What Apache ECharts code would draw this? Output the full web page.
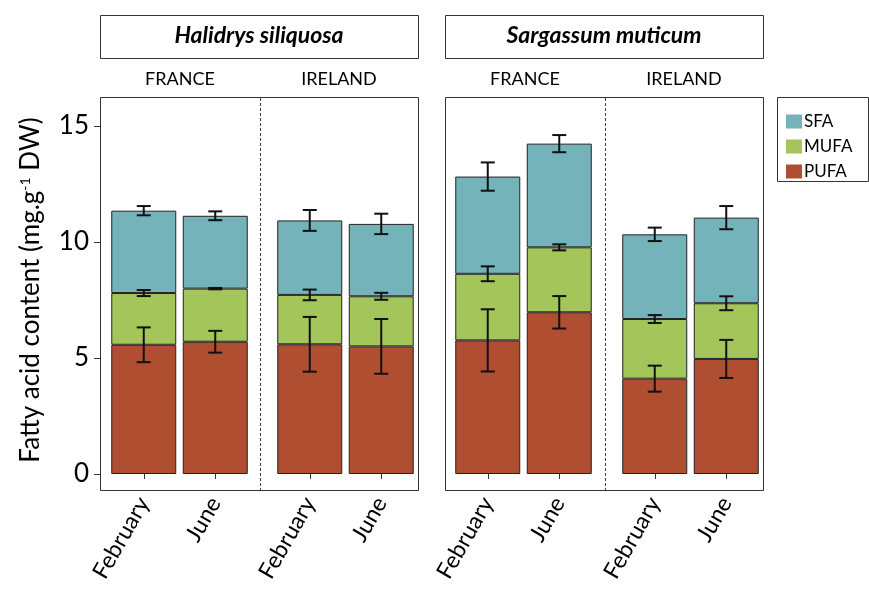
<!DOCTYPE html>
<html>
<head>
<meta charset="utf-8">
<script src="https://cdn.jsdelivr.net/npm/echarts@6/dist/echarts.min.js"></script>
<style>
html, body { margin: 0; padding: 0; background: #fff; }
#main { width: 869px; height: 596px; }
</style>
</head>
<body>
<div id="main"></div>
<script>
var species = ['Halidrys siliquosa', 'Sargassum muticum'];
var sites = ['FRANCE', 'IRELAND'];
var months = ['February', 'June'];
var yTicks = [0, 5, 10, 15];

// per species, in order: France Feb, France June, Ireland Feb, Ireland June
var pufa = [[5.57, 5.70, 5.59, 5.50], [5.76, 6.97, 4.11, 4.96]];
var mufa = [[2.23, 2.29, 2.13, 2.16], [2.87, 2.80, 2.57, 2.40]];
var sfa  = [[3.55, 3.14, 3.21, 3.12], [4.19, 4.47, 3.65, 3.69]];
var pufaSd = [[0.75, 0.47, 1.18, 1.18], [1.34, 0.70, 0.56, 0.82]];
var mufaSd = [[0.13, 0.03, 0.23, 0.15], [0.32, 0.13, 0.17, 0.30]];
var sfaSd  = [[0.20, 0.19, 0.45, 0.44], [0.61, 0.37, 0.29, 0.50]];

var colors = { SFA: '#75b3ba', MUFA: '#a4c55a', PUFA: '#b04e31' };
var font = 'Lato';

var myChart = echarts.init(document.getElementById('main'));

// layout of the four sub-panels (species x site)
var gridLeft = [108, 274, 452, 619];
var boxLeft = [100, 445];
var boxWidth = 318;

function renderErr(params, api) {
	var x = api.value(0), top = api.value(1), sd = api.value(2);
	var hi = api.coord([x, top + sd]);
	var lo = api.coord([x, top - sd]);
	var w = 7;
	var st = { stroke: '#111', lineWidth: 2 };
	return {
		type: 'group',
		children: [
			{ type: 'line', shape: { x1: hi[0], y1: hi[1], x2: lo[0], y2: lo[1] }, style: st },
			{ type: 'line', shape: { x1: hi[0] - w, y1: hi[1], x2: hi[0] + w, y2: hi[1] }, style: st },
			{ type: 'line', shape: { x1: lo[0] - w, y1: lo[1], x2: lo[0] + w, y2: lo[1] }, style: st }
		]
	};
}

var grids = [], xAxes = [], yAxes = [], series = [];

for (var s = 0; s < 2; s++) {
	for (var k = 0; k < 2; k++) {
		var g = s * 2 + k;
		grids.push({ left: gridLeft[g], top: 97, width: 143, height: 377 });
		xAxes.push({
			type: 'category', gridIndex: g, data: months, offset: 16,
			axisLine: { show: false },
			axisTick: { show: true, alignWithLabel: true, length: 5, lineStyle: { color: '#333' } },
			axisLabel: { rotate: 60, fontSize: 23, color: '#000', fontFamily: font, margin: 9 }
		});
		yAxes.push({
			type: 'value', gridIndex: g, min: 0, max: 16.25, show: g === 0, offset: 8,
			axisLine: { show: false },
			axisTick: { show: true, length: 6, customValues: yTicks, lineStyle: { color: '#333' } },
			axisLabel: { customValues: yTicks, fontSize: 26, color: '#000', fontFamily: font, margin: 11 },
			splitLine: { show: false }
		});

		var p = [], m = [], f = [], err = [];
		for (var j = 0; j < 2; j++) {
			var i = k * 2 + j;
			p.push(pufa[s][i]);
			m.push(mufa[s][i]);
			f.push(sfa[s][i]);
			err.push([j, pufa[s][i], pufaSd[s][i]]);
			err.push([j, pufa[s][i] + mufa[s][i], mufaSd[s][i]]);
			err.push([j, pufa[s][i] + mufa[s][i] + sfa[s][i], sfaSd[s][i]]);
		}
		[['PUFA', p], ['MUFA', m], ['SFA', f]].forEach(function (d) {
			series.push({
				name: d[0], type: 'bar', stack: 'st' + g,
				xAxisIndex: g, yAxisIndex: g, barWidth: 65,
				itemStyle: { color: colors[d[0]], borderColor: '#222', borderWidth: 1 },
				data: d[1]
			});
		});
		series.push({
			name: 'err', type: 'custom', xAxisIndex: g, yAxisIndex: g, z: 5,
			renderItem: renderErr, encode: { x: 0, y: 1 }, data: err
		});
	}
}

var graphics = [];
for (var s2 = 0; s2 < 2; s2++) {
	var bx = boxLeft[s2];
	graphics.push({
		type: 'rect', shape: { x: bx + 0.5, y: 15.5, width: boxWidth, height: 43 },
		style: { fill: '#fff', stroke: '#333', lineWidth: 1 }
	});
	graphics.push({
		type: 'text', x: bx + boxWidth / 2, y: 36,
		style: { text: species[s2], fontFamily: font, fontSize: 23, fontWeight: 'bold', fontStyle: 'italic', fill: '#000', align: 'center', verticalAlign: 'middle' }
	});
	graphics.push({
		type: 'rect', shape: { x: bx + 0.5, y: 97.5, width: boxWidth, height: 393 },
		style: { fill: 'none', stroke: '#333', lineWidth: 1 }, z: -1
	});
	graphics.push({
		type: 'line', shape: { x1: bx + 160.5, y1: 98, x2: bx + 160.5, y2: 490 },
		style: { stroke: '#444', lineWidth: 1, lineDash: [3, 2] }
	});
	for (var k2 = 0; k2 < 2; k2++) {
		graphics.push({
			type: 'text', x: bx + 80 + k2 * 159, y: 79,
			style: { text: sites[k2], fontFamily: font, fontSize: 18, fill: '#000', align: 'center', verticalAlign: 'middle' }
		});
	}
}
// legend frame
graphics.push({
	type: 'rect', shape: { x: 777.5, y: 97.5, width: 91, height: 84 },
	style: { fill: 'none', stroke: '#333', lineWidth: 1 }
});
// y axis title
graphics.push({
	type: 'text', x: 31, y: 290, rotation: Math.PI / 2,
	style: {
		text: '{a|Fatty acid content (mg.g}{s|-1}{a| DW)}',
		align: 'center', verticalAlign: 'middle',
		rich: {
			a: { fontFamily: font, fontSize: 26, fill: '#000', color: '#000' },
			s: { fontFamily: font, fontSize: 14, fill: '#000', color: '#000', verticalAlign: 'top' }
		}
	}
});

var option = {
	animation: false,
	backgroundColor: '#fff',
	legend: {
		data: ['SFA', 'MUFA', 'PUFA'], orient: 'vertical', left: 781, top: 108,
		icon: 'rect', itemWidth: 16, itemHeight: 14, itemGap: 8,
		itemStyle: { borderWidth: 0 },
		textStyle: { fontFamily: font, fontSize: 17, color: '#000', lineHeight: 17, padding: [0, 0, 0, -3] }
	},
	grid: grids,
	xAxis: xAxes,
	yAxis: yAxes,
	graphic: graphics,
	series: series
};

myChart.setOption(option);
</script>
</body>
</html>
